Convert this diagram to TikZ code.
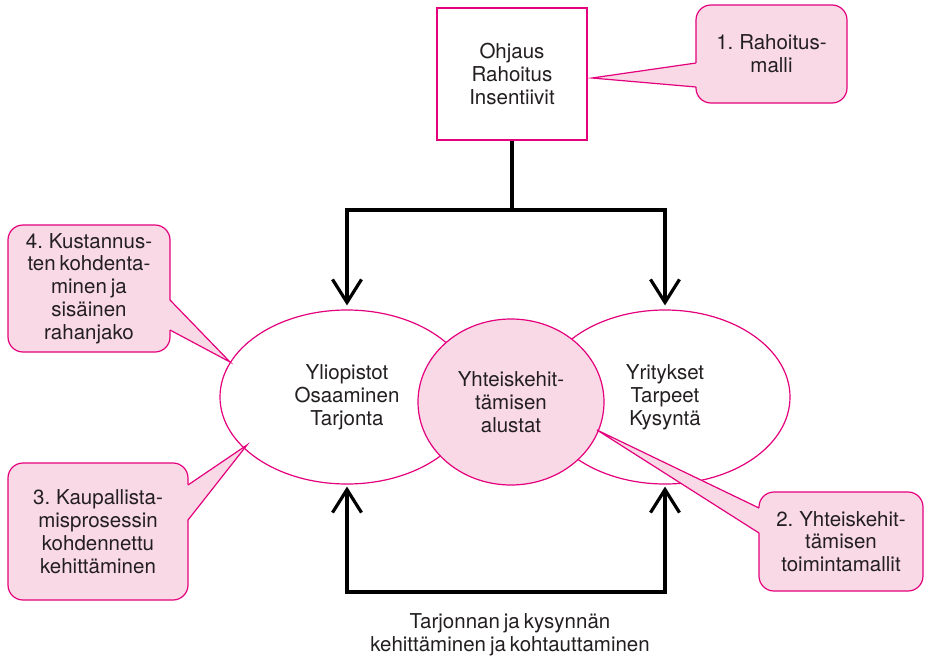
\documentclass[tikz,border=0pt]{standalone}
\usepackage{fontspec}
\setmainfont{TeX Gyre Heros}[WordSpace=0.7]
\usetikzlibrary{arrows.meta,shapes.geometric}
\definecolor{pinkline}{RGB}{228,0,124}
\definecolor{pinkfill}{RGB}{249,217,230}
\definecolor{txt}{RGB}{35,31,32}

\begin{document}
\begin{tikzpicture}[x=1pt,y=-1pt,
  every node/.style={font=\fontsize{20.5}{22.8}\selectfont, text=txt, align=center},
  outline/.style={draw=pinkline, line width=1.2pt},
  bubble/.style={outline, fill=pinkfill, rounded corners=15pt, inner sep=0pt},
  oval/.style={ellipse, outline, inner sep=0pt},
  bar/.style={line width=3.2pt, draw=black, line join=miter},
  flow/.style={bar, -{Straight Barb[length=23pt,width=29pt]}},
]
\useasboundingbox (0,0) rectangle (927,656);

% steering box and its callout
\node[outline, fill=white, minimum width=150pt, minimum height=132pt] (box) at (512,74)
  {Ohjaus\\Rahoitus\\Insentiivit};
\node[bubble, minimum width=151pt, minimum height=98pt] (c1) at (771.5,54)
  {1. Rahoitus-\\malli};
\coordinate (tip1) at (592,78);
\fill[pinkfill] (696.8,63) -- (tip1) -- (696.8,87) -- cycle;
\draw[outline, line join=miter] (696,63) -- (tip1) -- (696,87);

% the two actors and the shared platform
\node[oval, fill=white, minimum width=254pt, minimum height=174pt] (left) at (347,397)
  {Yliopistot\\Osaaminen\\Tarjonta};
\node[oval, fill=white, minimum width=250pt, minimum height=174pt] (right) at (665,397)
  {Yritykset\\Tarpeet\\Kysyntä};
\node[oval, fill=pinkfill, minimum width=186pt, minimum height=166pt] (mid) at (511,402)
  {Yhteiskehit-\\tämisen\\alustat};

% steering flows down to both actors
\coordinate (topbar) at (512,210);
\draw[bar] (box.south) -- (topbar);
\draw[flow, shorten >=4pt] (topbar) -| (left.north);
\draw[flow, shorten >=4pt] (topbar) -| (right.north);

% development loop underneath
\coordinate (botbar) at (506,592);
\draw[flow, shorten >=2pt] (botbar) -| (left.south);
\draw[flow, shorten >=2pt] (botbar) -| (right.south);
\node (loop) at (510,635) {Tarjonnan ja kysynnän\\kehittäminen ja kohtauttaminen};

% callout 4
\node[bubble, minimum width=162pt, minimum height=127pt] (c4) at (89,288.5)
  {4. Kustannus-\\ten kohdenta-\\minen ja\\sisäinen\\rahanjako};
\coordinate (tip4) at (230,362);
\fill[pinkfill] (169.2,300) -- (tip4) -- (169.2,330) -- cycle;
\draw[outline, line join=miter] (170,300) -- (tip4) -- (170,330);

% callout 3
\node[bubble, minimum width=180pt, minimum height=137pt] (c3) at (98,531.5)
  {3. Kaupallista-\\misprosessin\\kohdennettu\\kehittäminen};
\coordinate (tip3) at (247,445);
\fill[pinkfill] (187.2,485) -- (tip3) -- (187.2,520) -- cycle;
\draw[outline, line join=miter] (188,485) -- (tip3) -- (188,520);

% callout 2
\node[bubble, minimum width=164pt, minimum height=99pt] (c2) at (841,541.5)
  {2. Yhteiskehit-\\tämisen\\toimintamallit};
\coordinate (tip2) at (597,430);
\fill[pinkfill] (759.8,508) -- (tip2) -- (759.8,533) -- cycle;
\draw[outline, line join=miter] (759,508) -- (tip2) -- (759,533);
\end{tikzpicture}
\end{document}
